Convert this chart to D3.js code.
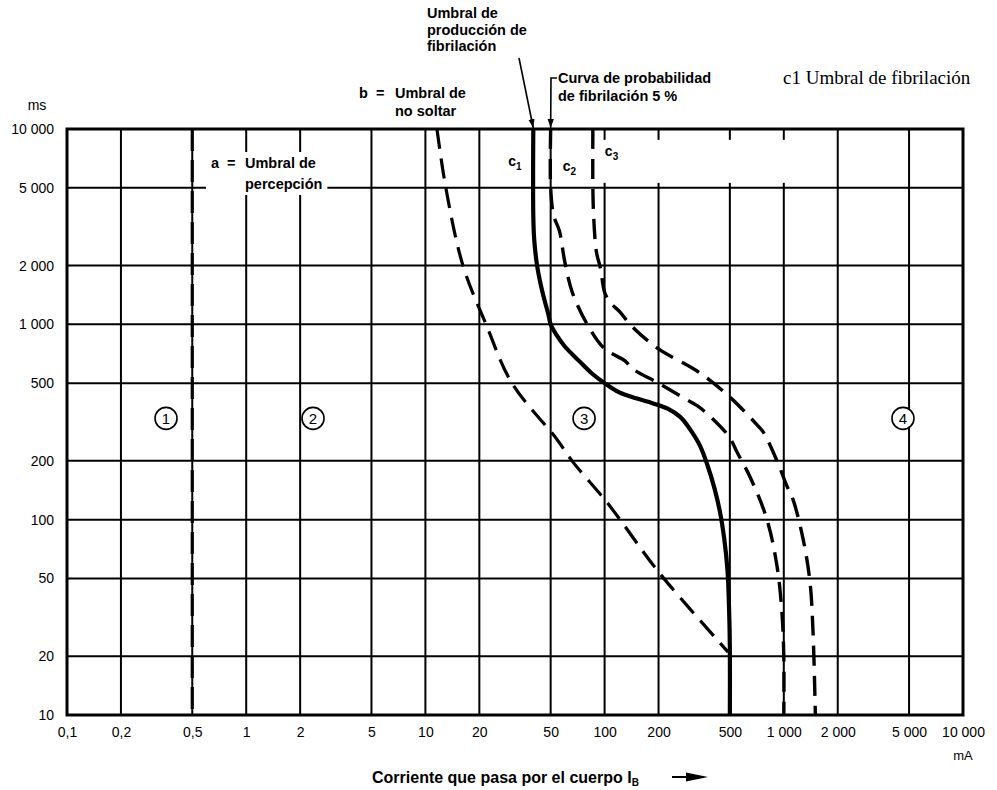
<!DOCTYPE html>
<html>
<head>
<meta charset="utf-8">
<script src="https://cdn.jsdelivr.net/npm/d3@7"></script>
<style>
  body { margin: 0; background: #fff; }
  svg { display: block; }
</style>
</head>
<body>
<svg id="chart" width="997" height="790"></svg>
<script>
// Axis ticks (mA and ms, logarithmic)
const currentTicks = [0.1, 0.2, 0.5, 1, 2, 5, 10, 20, 50, 100, 200, 500, 1000, 2000, 5000, 10000];
const timeTicks = [10, 20, 50, 100, 200, 500, 1000, 2000, 5000, 10000];

// Curve a: threshold of perception
const aCurrent = [0.5, 0.5];
const aTime = [10000, 10];

// Curve b: let-go threshold
const bCurrent = [11.6, 13, 16.2, 21.8, 30.4, 54, 65.8, 100, 122, 200, 489];
const bTime = [10000, 5000, 2000, 1000, 500, 259, 200, 127, 100, 54, 21];

// Curve c1: fibrillation threshold
const c1Current = [40, 40, 40.5, 42, 44, 46.5, 48.5, 50, 54, 60, 72, 85, 100, 120, 150, 185, 225, 265, 300, 340, 375, 410, 440, 465, 485, 495, 500, 500];
const c1Time = [10000, 3600, 2700, 2000, 1600, 1300, 1130, 1000, 880, 770, 650, 560, 500, 450, 418, 395, 370, 335, 290, 240, 190, 145, 110, 80, 55, 35, 22, 10];

// Curve c2: 5 % fibrillation probability
const c2Current = [50, 50, 52, 56, 60, 66, 80, 100, 130, 144, 200, 270, 330, 403, 495, 548, 655, 806, 916, 975, 1000, 1000];
const c2Time = [10000, 5000, 3600, 3000, 2080, 1460, 1000, 750, 650, 590, 500, 425, 382, 327, 266, 222, 162, 100, 58, 34, 20, 10];

// Curve c3: 50 % fibrillation probability
const c3Current = [86, 86, 87, 90, 95, 100, 107, 122, 140, 200, 328, 500, 720, 770, 916, 1040, 1125, 1280, 1400, 1456, 1500];
const c3Time = [10000, 5000, 3500, 2350, 1920, 1460, 1300, 1156, 990, 748, 577, 424, 301, 280, 200, 149, 127, 80, 48, 26.5, 10];

// Zone markers
const zoneNames = ["1", "2", "3", "4"];
const zoneCurrent = [0.357, 2.36, 76.8, 4624];
const zoneTime = [330, 330, 330, 330];

const W = 997, H = 790;
const plot = { left: 67, right: 963, top: 129, bottom: 715 };
const INK = "#000";
const SANS = "'Liberation Sans', Arial, sans-serif";
const BOLD = "'Liberation Sans', Arial, sans-serif";
const BOLD_SIZE = 14.5;

const x = d3.scaleLog().domain([0.1, 10000]).range([plot.left, plot.right]);
const y = d3.scaleLog().domain([10, 10000]).range([plot.bottom, plot.top]);

const svg = d3.select("#chart");
svg.append("rect").attr("width", W).attr("height", H).attr("fill", "#fff");

const loc = d3.formatLocale({ decimal: ",", thousands: " ", grouping: [3], currency: ["", ""] });
const fmt = loc.format(",");

// Grid
const grid = svg.append("g").attr("stroke", INK).attr("stroke-width", 2);
grid.selectAll("line.v").data(currentTicks).join("line").attr("class", "v")
  .attr("x1", d => x(d)).attr("x2", d => x(d))
  .attr("y1", plot.top).attr("y2", plot.bottom);
grid.selectAll("line.h").data(timeTicks).join("line").attr("class", "h")
  .attr("x1", plot.left).attr("x2", plot.right)
  .attr("y1", d => y(d)).attr("y2", d => y(d));

// Blank band in the top row (grid interrupted between 100 mA and 1 000 mA)
svg.append("rect")
  .attr("x", x(94)).attr("width", x(1150) - x(94))
  .attr("y", y(8800)).attr("height", y(5300) - y(8800))
  .attr("fill", "#fff");

// Frame
svg.append("rect")
  .attr("x", plot.left).attr("y", plot.top)
  .attr("width", plot.right - plot.left).attr("height", plot.bottom - plot.top)
  .attr("fill", "none").attr("stroke", INK).attr("stroke-width", 3);

// Axes labels
const xAxis = svg.append("g").attr("transform", `translate(0,${plot.bottom})`)
  .call(d3.axisBottom(x).tickValues(currentTicks).tickFormat(fmt).tickSize(0).tickPadding(12));
xAxis.select(".domain").remove();
xAxis.attr("font-family", SANS).attr("font-size", 14);

const yAxis = svg.append("g").attr("transform", `translate(${plot.left},0)`)
  .call(d3.axisLeft(y).tickValues(timeTicks).tickFormat(fmt).tickSize(0).tickPadding(13));
yAxis.select(".domain").remove();
yAxis.attr("font-family", SANS).attr("font-size", 14);

svg.append("text").attr("x", 37).attr("y", 110).attr("text-anchor", "middle")
  .attr("font-family", SANS).attr("font-size", 14).text("ms");
svg.append("text").attr("x", 963).attr("y", 760).attr("text-anchor", "middle")
  .attr("font-family", SANS).attr("font-size", 13).text("mA");

// Curves
const line = d3.line().x(d => x(d[0])).y(d => y(d[1])).curve(d3.curveCatmullRom.alpha(0.5));
const zip = (a, b) => a.map((v, i) => [v, b[i]]);
const curves = [
  { pts: zip(aCurrent, aTime), w: 3.2, dash: "22,9" },
  { pts: zip(bCurrent, bTime), w: 3.2, dash: "20,10" },
  { pts: zip(c1Current, c1Time), w: 4.2, dash: null },
  { pts: zip(c2Current, c2Time), w: 3.4, dash: "20,10" },
  { pts: zip(c3Current, c3Time), w: 3.4, dash: "20,10" }
];
svg.append("g").selectAll("path").data(curves).join("path")
  .attr("d", d => line(d.pts))
  .attr("fill", "none").attr("stroke", INK)
  .attr("stroke-width", d => d.w)
  .attr("stroke-dasharray", d => d.dash)
  .attr("stroke-linecap", "butt");

// Text with an opaque white background
function boxedText(g, pad) {
  const bb = g.node().getBBox();
  g.insert("rect", ":first-child")
    .attr("x", bb.x - pad[0]).attr("y", bb.y - pad[1])
    .attr("width", bb.width + pad[0] * 2).attr("height", bb.height + pad[1] * 2)
    .attr("fill", "#fff");
}

// a = Umbral de percepción
const aLab = svg.append("g").attr("font-family", BOLD).attr("font-weight", 700).attr("font-size", BOLD_SIZE);
aLab.append("text").attr("x", 211).attr("y", 168).text("a");
aLab.append("text").attr("x", 227).attr("y", 168).text("=");
aLab.append("text").attr("x", 245).attr("y", 168).text("Umbral de");
aLab.append("text").attr("x", 245).attr("y", 189).text("percepción");
boxedText(aLab, [5, 3]);

// c1, c2, c3 tags
function cTag(xp, yp, n, boxed) {
  const g = svg.append("g").attr("font-family", BOLD).attr("font-weight", 700).attr("font-size", 14);
  const t = g.append("text").attr("x", xp).attr("y", yp);
  t.append("tspan").text("c");
  t.append("tspan").attr("font-size", 10).attr("dy", 4).text(n);
  if (boxed) boxedText(g, [2, 2]);
}
cTag(x(c1Current[0]) - 25, 166, "1", false);
cTag(x(c2Current[0]) + 12, 171, "2", false);
cTag(x(c3Current[0]) + 12, 156, "3", true);

// Zone markers
const zones = svg.append("g").selectAll("g").data(zoneNames).join("g")
  .attr("transform", (d, i) => `translate(${x(zoneCurrent[i])},${y(zoneTime[i])})`);
zones.append("circle").attr("r", 11).attr("fill", "#fff").attr("stroke", INK).attr("stroke-width", 1.6);
zones.append("text").attr("text-anchor", "middle").attr("dy", "0.36em")
  .attr("font-family", SANS).attr("font-size", 15).text(d => d);

// Header annotations
const head = svg.append("g").attr("font-family", BOLD).attr("font-weight", 700).attr("font-size", BOLD_SIZE).attr("fill", INK);
head.append("text").attr("x", 427).attr("y", 18).text("Umbral de");
head.append("text").attr("x", 427).attr("y", 34.5).text("producción de");
head.append("text").attr("x", 427).attr("y", 51).text("fibrilación");

head.append("text").attr("x", 359).attr("y", 98).text("b");
head.append("text").attr("x", 376).attr("y", 98).text("=");
head.append("text").attr("x", 395).attr("y", 98).text("Umbral de");
head.append("text").attr("x", 395).attr("y", 116).text("no soltar");

head.append("text").attr("x", 558).attr("y", 83).text("Curva de probabilidad");
head.append("text").attr("x", 558).attr("y", 101).text("de fibrilación 5 %");

svg.append("text").attr("x", 783).attr("y", 84)
  .attr("font-family", "'Liberation Serif', 'Times New Roman', serif").attr("font-size", 19)
  .text("c1 Umbral de fibrilación");

// Arrows to c1 and c2
const defs = svg.append("defs");
defs.append("marker").attr("id", "tip").attr("viewBox", "0 0 10 10")
  .attr("refX", 10).attr("refY", 5).attr("markerWidth", 9).attr("markerHeight", 9)
  .attr("markerUnits", "userSpaceOnUse").attr("orient", "auto")
  .append("path").attr("d", "M0,1.5 L10,5 L0,8.5 Z").attr("fill", INK);

svg.append("path")
  .attr("d", `M519,58 L${x(c1Current[0])},${plot.top - 1}`)
  .attr("stroke", INK).attr("stroke-width", 1.6).attr("fill", "none").attr("marker-end", "url(#tip)");
svg.append("path")
  .attr("d", `M557,78 L551,78 L${x(c2Current[0])},${plot.top - 1}`)
  .attr("stroke", INK).attr("stroke-width", 1.6).attr("fill", "none").attr("marker-end", "url(#tip)");

// Axis title
const xt = svg.append("text").attr("x", 372).attr("y", 783)
  .attr("font-family", BOLD).attr("font-weight", 700).attr("font-size", 16);
xt.append("tspan").text("Corriente que pasa por el cuerpo I");
xt.append("tspan").attr("font-size", 10).attr("dy", 3).text("B");
const arrowX = 672;
svg.append("line").attr("x1", arrowX).attr("x2", arrowX + 18).attr("y1", 777).attr("y2", 777)
  .attr("stroke", INK).attr("stroke-width", 2);
svg.append("path").attr("d", `M${arrowX + 14},772.5 L${arrowX + 36},777 L${arrowX + 14},781.5 Z`).attr("fill", INK);
</script>
</body>
</html>
